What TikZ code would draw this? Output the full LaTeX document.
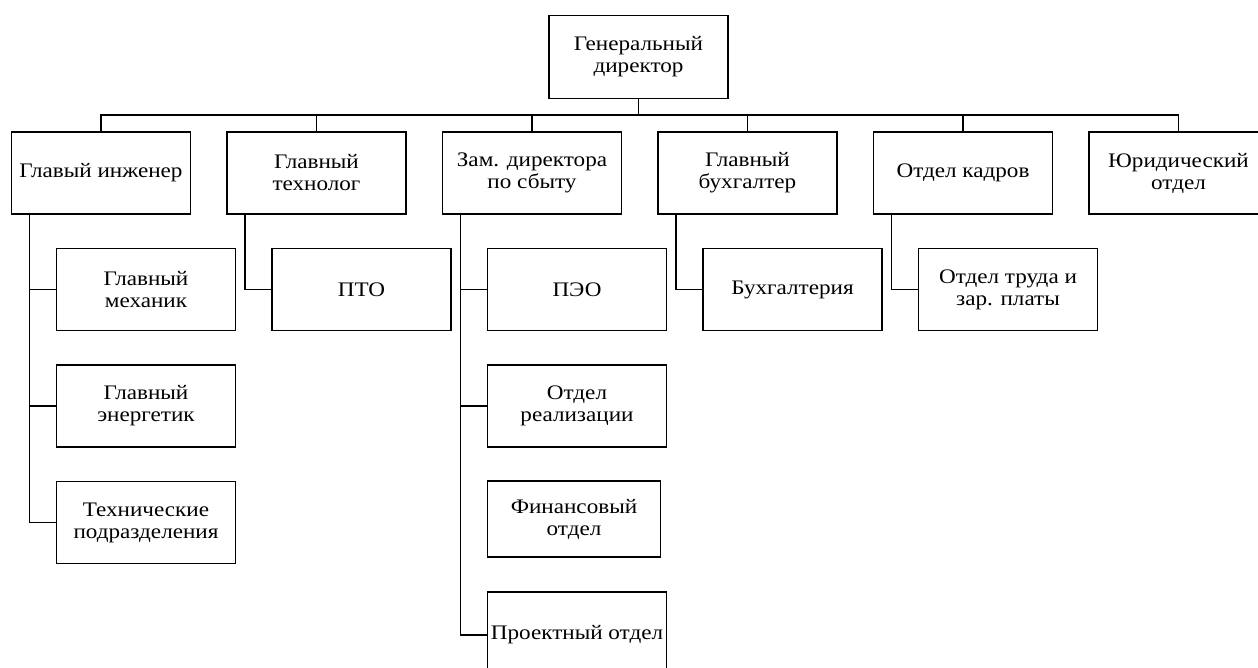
\documentclass[tikz,border=0pt]{standalone}
\usepackage{fontspec}
\setmainfont{Liberation Serif}[FakeStretch=1.12]
\begin{document}
\begin{tikzpicture}[x=0.75pt,y=-0.75pt,
    unit/.style={draw,line width=1pt,align=center,inner sep=0pt,
      minimum width=134.25pt,minimum height=61.5pt,
      font=\fontsize{15.5}{16.5}\selectfont},
    link/.style={line width=1pt}]
      \def\busy{115}
      \def\lvla{173}
      \useasboundingbox (0,0) rectangle (1258,668);
      \clip (0,0) rectangle (1258,668);
      \node[unit,minimum height=62.25pt] (gd) at (638.5,57) {Генеральный\\директор};
      \node[unit] (gi)  at (101,\lvla)    {Главый инженер};
      \node[unit] (gt)  at (316.5,\lvla)  {Главный\\технолог};
      \node[unit] (zam) at (532,\lvla)    {Зам. директора\\по сбыту};
      \node[unit] (gb)  at (747.5,\lvla)  {Главный\\бухгалтер};
      \node[unit] (ok)  at (963,\lvla)    {Отдел кадров};
      \node[unit] (yo)  at (1178.5,\lvla) {Юридический\\отдел};
      \node[unit] (mech)  at (146,289.5)  {Главный\\механик};
      \node[unit] (energ) at (146,406)    {Главный\\энергетик};
      \node[unit] (tech)  at (146,522.5)  {Технические\\подразделения};
      \node[unit] (pto)   at (361.5,289.5) {ПТО};
      \node[unit] (peo)   at (577,289.5)  {ПЭО};
      \node[unit] (real)  at (577,406)    {Отдел\\реализации};
      \node[unit,minimum width=129.75pt,minimum height=57pt] (fin) at (574,519) {Финансовый\\отдел};
      \node[unit,minimum height=64.5pt] (proj) at (577,635) {Проектный отдел};
      \node[unit] (buh)   at (792.5,289.5) {Бухгалтерия};
      \node[unit] (otz)   at (1008,289.5) {Отдел труда и\\зар. платы};
      \coordinate (bus) at (0,\busy);
      \draw[link] (gd.south) -- (gd.south |- bus);
      \draw[link] (gi.north) -- (gi.north |- bus) -| (yo.north);
      \foreach \n in {gt,zam,gb,ok} {
        \draw[link] (\n.north) -- (\n.north |- bus);
      }
      \foreach \n in {mech,energ,tech} {
        \draw[link] ([xshift=13.9pt]gi.south west) |- (\n.west);
      }
      \draw[link] ([xshift=13.9pt]gt.south west) |- (pto.west);
      \foreach \n in {peo,real,proj} {
        \draw[link] ([xshift=13.9pt]zam.south west) |- (\n.west);
      }
      \draw[link] ([xshift=13.9pt]gb.south west) |- (buh.west);
      \draw[link] ([xshift=13.9pt]ok.south west) |- (otz.west);
    \end{tikzpicture}
\end{document}
